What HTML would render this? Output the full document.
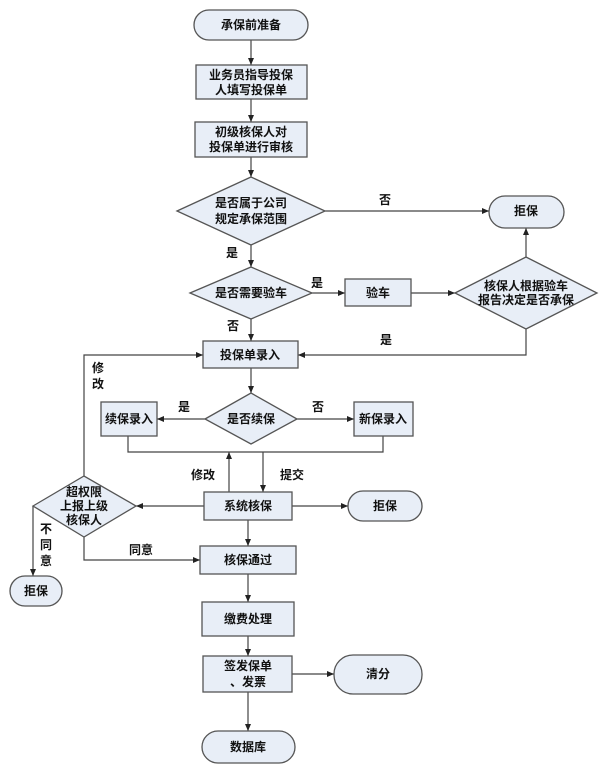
<!DOCTYPE html>
<html><head><meta charset="utf-8"><style>
html,body{margin:0;padding:0;background:#fff;}
svg{display:block;}
text{font-family:"Liberation Sans","Noto Sans CJK SC",sans-serif;font-size:12px;font-weight:bold;fill:#111;text-anchor:middle;dominant-baseline:central;}
.s{fill:#e8eef7;stroke:#555;stroke-width:1.3;}
.l{fill:none;stroke:#444;stroke-width:1.2;}
</style></head><body>
<svg width="600" height="765" viewBox="0 0 600 765">
<defs><marker id="a" markerWidth="8" markerHeight="8" refX="7" refY="4" orient="auto" markerUnits="userSpaceOnUse"><path d="M0,1 L7,4 L0,7 Z" fill="#222"/></marker></defs>
<!-- connectors -->
<g class="l" marker-end="url(#a)">
<path d="M251,40 V65"/>
<path d="M251,99 V122"/>
<path d="M251,157 V177"/>
<path d="M325,211 H489"/>
<path d="M251,245 V267"/>
<path d="M312,293 H345"/>
<path d="M411,293 H455"/>
<path d="M526,257 V228"/>
<path d="M526,329 V355 H298"/>
<path d="M251,319 V341"/>
<path d="M84,476 V355 H203"/>
<path d="M251,368 V393"/>
<path d="M205,419 H157"/>
<path d="M297,419 H354"/>
<path d="M229,492 V452"/>
<path d="M263,452 V492"/>
<path d="M204,506 H136"/>
<path d="M292,506 H348"/>
<path d="M33,506 V576"/>
<path d="M84,537 V560 H200"/>
<path d="M248,520 V546"/>
<path d="M248,574 V602"/>
<path d="M248,636 V656"/>
<path d="M292,674 H334"/>
<path d="M248,692 V731"/>
</g>
<path class="l" d="M128,436 V452 H383 V436"/>
<!-- shapes -->
<rect class="s" x="194" y="10" width="114" height="30" rx="15"/>
<rect class="s" x="196" y="65" width="111" height="34"/>
<rect class="s" x="195" y="122" width="112" height="35"/>
<polygon class="s" points="177,211 251,177 325,211 251,245"/>
<rect class="s" x="489" y="196" width="75" height="32" rx="16"/>
<polygon class="s" points="190,293 251,267 312,293 251,319"/>
<rect class="s" x="345" y="279" width="66" height="27"/>
<polygon class="s" points="455,293 526,257 597,293 526,329"/>
<rect class="s" x="203" y="341" width="95" height="27"/>
<polygon class="s" points="205,419 251,393 297,419 251,444"/>
<rect class="s" x="101" y="402" width="56" height="34"/>
<rect class="s" x="354" y="402" width="59" height="34"/>
<rect class="s" x="204" y="492" width="88" height="28"/>
<polygon class="s" points="33,506 84,476 136,506 84,537"/>
<rect class="s" x="348" y="491" width="74" height="30" rx="15"/>
<rect class="s" x="10" y="576" width="52" height="30" rx="15"/>
<rect class="s" x="200" y="546" width="96" height="28"/>
<rect class="s" x="202" y="602" width="92" height="34"/>
<rect class="s" x="203" y="656" width="89" height="36"/>
<rect class="s" x="334" y="655" width="88" height="39" rx="19"/>
<rect class="s" x="202" y="731" width="93" height="32" rx="16"/>
<!-- text -->
<text x="251" y="25">承保前准备</text>
<text x="251" y="75">业务员指导投保</text>
<text x="251" y="90">人填写投保单</text>
<text x="251" y="132">初级核保人对</text>
<text x="251" y="147">投保单进行审核</text>
<text x="251" y="203">是否属于公司</text>
<text x="251" y="219">规定承保范围</text>
<text x="385" y="200">否</text>
<text x="526" y="211">拒保</text>
<text x="232" y="253">是</text>
<text x="251" y="293">是否需要验车</text>
<text x="317" y="283">是</text>
<text x="378" y="293">验车</text>
<text x="526" y="286">核保人根据验车</text>
<text x="526" y="300">报告决定是否承保</text>
<text x="233" y="326">否</text>
<text x="386" y="340">是</text>
<text x="250" y="355">投保单录入</text>
<text x="98" y="368">修</text>
<text x="98" y="384">改</text>
<text x="251" y="419">是否续保</text>
<text x="184" y="407">是</text>
<text x="318" y="407">否</text>
<text x="129" y="419">续保录入</text>
<text x="383" y="419">新保录入</text>
<text x="203" y="475">修改</text>
<text x="292" y="475">提交</text>
<text x="248" y="506">系统核保</text>
<text x="84" y="492">超权限</text>
<text x="84" y="506">上报上级</text>
<text x="84" y="520">核保人</text>
<text x="385" y="506">拒保</text>
<text x="46" y="529">不</text>
<text x="46" y="545">同</text>
<text x="46" y="561">意</text>
<text x="36" y="591">拒保</text>
<text x="141" y="550">同意</text>
<text x="248" y="560">核保通过</text>
<text x="248" y="619">缴费处理</text>
<text x="248" y="666">签发保单</text>
<text x="248" y="682">、发票</text>
<text x="378" y="674">清分</text>
<text x="248" y="747">数据库</text>
</svg>
</body></html>
